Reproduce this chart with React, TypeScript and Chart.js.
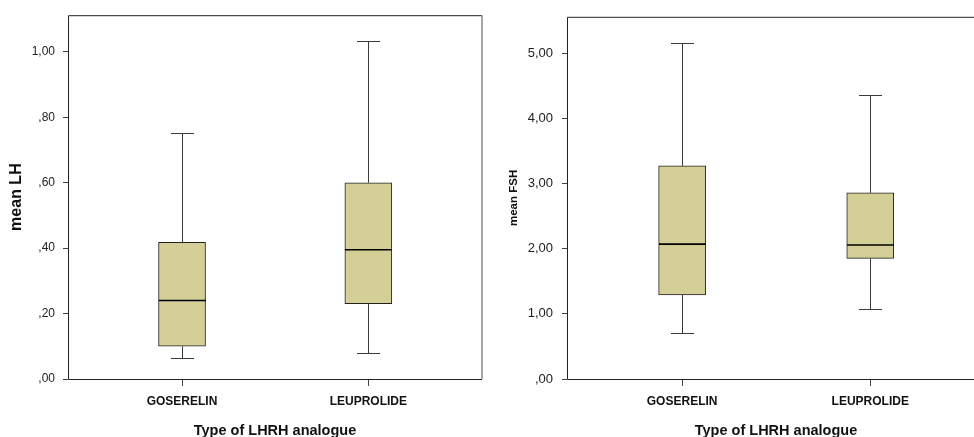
import React, { useEffect, useRef } from 'react';
import { Chart, registerables } from 'chart.js';
Chart.register(...registerables);

const categories = ['GOSERELIN', 'LEUPROLIDE'];
const categoryPositions = [1, 2];

const lhMin = [0.065, 0.08];
const lhQ1 = [0.1, 0.23];
const lhMedian = [0.24, 0.395];
const lhQ3 = [0.418, 0.6];
const lhMax = [0.751, 1.033];
const lhTicks = [0, 0.2, 0.4, 0.6, 0.8, 1.0];

const fshMin = [0.71, 1.08];
const fshQ1 = [1.29, 1.85];
const fshMedian = [2.07, 2.055];
const fshQ3 = [3.27, 2.855];
const fshMax = [5.15, 4.35];
const fshTicks = [0, 1, 2, 3, 4, 5];

const FONT = "'Liberation Sans', Arial, sans-serif";
const BOX_FILL = '#d4cf97';

function fmt(v: number): string {
  const s = v.toFixed(2).replace('.', ',');
  return s.startsWith('0') ? s.slice(1) : s;
}

type PanelProps = {
  width: number;
  height: number;
  left: number;
  mins: number[];
  q1s: number[];
  medians: number[];
  q3s: number[];
  maxs: number[];
  ticks: number[];
  yMax: number;
  yTitle: string;
  yTitleSize: number;
  yTitlePad: number;
  yTickSize: number;
  yTickPad: number;
  axisWidth: number;
  padTop: number;
  padRight: number;
};

function BoxPanel(p: PanelProps) {
  const ref = useRef<HTMLCanvasElement | null>(null);
  useEffect(() => {
    if (!ref.current) return;
    const boxPlugin = {
      id: 'boxWhisker',
      afterDatasetsDraw(chart: any) {
        const ctx = chart.ctx;
        const xs = chart.scales.x;
        const ys = chart.scales.y;
        ctx.save();
        categoryPositions.forEach((pos, i) => {
          const cx = Math.round(xs.getPixelForValue(pos)) + 0.5;
          const yMinP = Math.round(ys.getPixelForValue(p.mins[i])) + 0.5;
          const yQ1P = ys.getPixelForValue(p.q1s[i]);
          const yQ3P = ys.getPixelForValue(p.q3s[i]);
          const yMaxP = Math.round(ys.getPixelForValue(p.maxs[i])) + 0.5;
          const yMed = ys.getPixelForValue(p.medians[i]);
          ctx.strokeStyle = '#3a3a3a';
          ctx.lineWidth = 1;
          ctx.beginPath();
          ctx.moveTo(cx, yQ3P);
          ctx.lineTo(cx, yMaxP);
          ctx.moveTo(cx - 11.5, yMaxP);
          ctx.lineTo(cx + 11.5, yMaxP);
          ctx.moveTo(cx, yQ1P);
          ctx.lineTo(cx, yMinP);
          ctx.moveTo(cx - 11.5, yMinP);
          ctx.lineTo(cx + 11.5, yMinP);
          ctx.stroke();
          ctx.strokeStyle = '#000';
          ctx.lineWidth = 1.6;
          ctx.beginPath();
          ctx.moveTo(cx - 23.5, yMed);
          ctx.lineTo(cx + 23.5, yMed);
          ctx.stroke();
        });
        const a = chart.chartArea;
        ctx.lineWidth = 1;
        ctx.strokeStyle = '#222';
        ctx.beginPath();
        ctx.moveTo(a.right, a.top + 0.5);
        ctx.lineTo(a.left + 0.5, a.top + 0.5);
        ctx.lineTo(a.left + 0.5, a.bottom + 0.5);
        ctx.lineTo(a.right, a.bottom + 0.5);
        ctx.stroke();
        ctx.strokeStyle = '#888';
        ctx.lineWidth = 1.5;
        ctx.beginPath();
        ctx.moveTo(a.right, a.top);
        ctx.lineTo(a.right, a.bottom);
        ctx.stroke();
        ctx.restore();
      },
    };
    const chart = new Chart(ref.current, {
      type: 'bar',
      data: {
        datasets: [
          {
            data: categoryPositions.map((x, i) => ({ x, y: [p.q1s[i], p.q3s[i]] })) as any,
            backgroundColor: BOX_FILL,
            borderColor: '#222',
            borderWidth: 1,
            borderSkipped: false,
            barThickness: 47,
          },
        ],
      },
      options: {
        responsive: false,
        animation: false,
        layout: { padding: { top: p.padTop, right: p.padRight, left: 0, bottom: 0 } },
        plugins: { legend: { display: false }, tooltip: { enabled: false } },
        scales: {
          x: {
            type: 'linear',
            min: 0.388,
            max: 2.61,
            offset: false,
            grid: { offset: false, drawOnChartArea: false, drawTicks: true, tickLength: 7, color: '#444' },
            border: { display: false },
            afterBuildTicks: (s: any) => {
              s.ticks = categoryPositions.map((v) => ({ value: v }));
            },
            afterFit: (s: any) => {
              s.height = 58;
            },
            ticks: {
              padding: 8,
              color: '#111',
              font: { family: FONT, size: 12, weight: 'bold' },
              callback: (v: any) => categories[categoryPositions.indexOf(Number(v))] ?? '',
              maxRotation: 0,
              autoSkip: false,
            },
            title: {
              display: true,
              text: 'Type of LHRH analogue',
              color: '#111',
              font: { family: FONT, size: 14.5, weight: 'bold', lineHeight: 0.8 },
              padding: { top: 0, bottom: 0 },
            },
          },
          y: {
            type: 'linear',
            min: 0,
            max: p.yMax,
            grid: { drawOnChartArea: false, drawTicks: true, tickLength: 5, color: '#444' },
            border: { display: false },
            afterBuildTicks: (s: any) => {
              s.ticks = p.ticks.map((v) => ({ value: v }));
            },
            afterFit: (s: any) => {
              s.width = p.axisWidth;
            },
            ticks: {
              padding: p.yTickPad,
              color: '#222',
              font: { family: FONT, size: p.yTickSize },
              callback: (v: any) => fmt(Number(v)),
            },
            title: {
              display: true,
              text: p.yTitle,
              color: '#111',
              font: { family: FONT, size: p.yTitleSize, weight: 'bold', lineHeight: 1.2 },
              padding: { top: p.yTitlePad, bottom: 0 },
            },
          },
        },
      } as any,
      plugins: [boxPlugin],
    });
    return () => chart.destroy();
  }, []);
  return (
    <canvas
      ref={ref}
      width={p.width}
      height={p.height}
      style={{ position: 'absolute', left: p.left, top: 0, width: p.width, height: p.height }}
    />
  );
}

export default function App() {
  return (
    <div
      style={{
        position: 'absolute',
        left: 0,
        top: 0,
        width: 974,
        height: 437,
        overflow: 'hidden',
        background: '#fff',
      }}
    >
      <BoxPanel
        width={487}
        height={437}
        left={0}
        mins={lhMin}
        q1s={lhQ1}
        medians={lhMedian}
        q3s={lhQ3}
        maxs={lhMax}
        ticks={lhTicks}
        yMax={1.112}
        yTitle="mean LH"
        yTitleSize={16}
        yTitlePad={7.4}
        yTickSize={12}
        yTickPad={8}
        axisWidth={68}
        padTop={13}
        padRight={5}
      />
      <BoxPanel
        width={500}
        height={437}
        left={487}
        mins={fshMin}
        q1s={fshQ1}
        medians={fshMedian}
        q3s={fshQ3}
        maxs={fshMax}
        ticks={fshTicks}
        yMax={5.557}
        yTitle="mean FSH"
        yTitleSize={11.5}
        yTitlePad={20}
        yTickSize={13}
        yTickPad={9}
        axisWidth={80}
        padTop={15}
        padRight={2}
      />
    </div>
  );
}
